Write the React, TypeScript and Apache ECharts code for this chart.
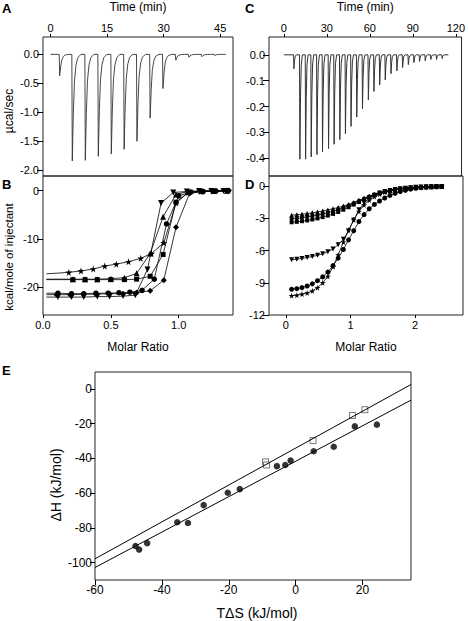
import React, { useEffect, useRef } from "react";
import * as echarts from "echarts";

// ---------- Panel A: thermogram ----------
const aInjTimes = [2.3, 5.65, 9.1, 12.55, 16.0, 19.4, 22.8, 26.3, 29.7, 33.1, 36.6, 40.0, 43.4];
const aPeaks = [-0.37, -1.84, -1.83, -1.76, -1.72, -1.64, -1.5, -1.1, -0.59, -0.1, -0.05, -0.04, -0.02];
const aSpikeDt = [0, 0.12, 0.4, 0.7, 1.1, 1.6, 2.4];
const aSpikeFrac = [0, 1, 0.55, 0.25, 0.1, 0.03, 0];
const aStart = 0;
const aEnd = 46.5;

// ---------- Panel C: thermogram ----------
const cInjTimes = [6.75, 10.9, 14.9, 18.8, 22.8, 26.7, 30.9, 34.8, 38.8, 42.7, 46.6, 50.6, 54.6, 58.7, 62.6, 66.6, 70.5, 74.5, 78.6, 82.6, 86.6, 90.5, 94.4, 98.4, 102.3, 106.3, 110.2];
const cPeaks = [-0.054, -0.404, -0.404, -0.395, -0.386, -0.376, -0.363, -0.346, -0.328, -0.305, -0.277, -0.241, -0.209, -0.174, -0.142, -0.117, -0.097, -0.073, -0.062, -0.049, -0.038, -0.03, -0.026, -0.023, -0.018, -0.018, -0.014];
const cSpikeDt = [0, 0.25, 0.7, 1.2, 2.0];
const cSpikeFrac = [0, 1, 0.4, 0.1, 0];
const cStart = 0;
const cEnd = 114.8;

// ---------- Panel B: integrated heats ----------
const bFitStartX = 0.025;
const bStarX = [0.19, 0.28, 0.37, 0.455, 0.54, 0.63, 0.72, 0.8, 0.89, 0.98, 1.07, 1.16, 1.25, 1.35];
const bStarY = [-16.9, -16.6, -16.2, -15.6, -15.2, -14.7, -14.0, -13.0, -10.8, -2.6, -0.4, -0.2, -0.1, -0.1];
const bStarFit0 = -17.2;
const bTriX = [0.22, 0.31, 0.4, 0.5, 0.6, 0.69, 0.79, 0.885, 0.98, 1.07, 1.17, 1.26, 1.36];
const bTriY = [-18.3, -18.3, -18.3, -18.2, -18.0, -17.1, -13.0, -5.4, -0.8, -0.2, -0.1, -0.1, 0];
const bTriFit0 = -18.3;
const bSqX = [0.22, 0.31, 0.4, 0.5, 0.6, 0.69, 0.79, 0.885, 0.98, 1.07, 1.17, 1.26, 1.36];
const bSqY = [-18.4, -18.4, -18.4, -18.4, -18.4, -18.3, -17.7, -13.2, -2.4, -0.4, -0.2, -0.1, 0];
const bSqFit0 = -18.4;
const bCircX = [0.11, 0.21, 0.3, 0.39, 0.48, 0.56, 0.64, 0.73, 0.82, 0.91, 1.0, 1.09, 1.18, 1.27, 1.36];
const bCircY = [-21.2, -21.3, -21.3, -21.2, -21.2, -21.1, -21.0, -20.6, -18.3, -6.9, -1.1, -0.3, -0.2, -0.1, -0.1];
const bCircFit0 = -21.2;
const bInvTriX = [0.11, 0.21, 0.3, 0.4, 0.49, 0.59, 0.68, 0.77, 0.87, 0.96, 1.06, 1.15, 1.24, 1.33];
const bInvTriY = [-22.0, -22.0, -22.0, -21.9, -21.9, -21.8, -21.6, -16.3, -2.6, -0.4, -0.2, -0.1, -0.1, -0.1];
const bInvTriFit0 = -22.0;
const bDiaX = [0.1, 0.2, 0.3, 0.39, 0.49, 0.59, 0.69, 0.79, 0.89, 0.98, 1.08, 1.18, 1.28, 1.37];
const bDiaY = [-21.5, -21.5, -21.4, -21.4, -21.3, -21.3, -21.1, -20.7, -18.5, -7.6, -0.6, -0.2, -0.1, 0];
const bDiaFit0 = -21.5;

// ---------- Panel D: integrated heats ----------
const dX = [0.09, 0.17, 0.25, 0.33, 0.41, 0.49, 0.57, 0.65, 0.73, 0.81, 0.89, 0.97, 1.05, 1.13, 1.21, 1.29, 1.37, 1.45, 1.53, 1.61, 1.69, 1.77, 1.85, 1.93, 2.01, 2.09, 2.17, 2.25, 2.33, 2.41];
const dTriY = [-2.7, -2.66, -2.61, -2.55, -2.48, -2.4, -2.31, -2.21, -2.1, -1.98, -1.85, -1.7, -1.52, -1.32, -1.12, -0.93, -0.76, -0.61, -0.49, -0.39, -0.31, -0.24, -0.19, -0.14, -0.11, -0.08, -0.06, -0.04, -0.03, -0.02];
const dMidY = [-3.05, -3.0, -2.94, -2.87, -2.79, -2.7, -2.59, -2.47, -2.33, -2.17, -1.99, -1.79, -1.57, -1.36, -1.15, -0.95, -0.78, -0.63, -0.5, -0.4, -0.32, -0.25, -0.19, -0.15, -0.11, -0.08, -0.06, -0.04, -0.03, -0.02];
const dSqY = [-3.36, -3.32, -3.26, -3.19, -3.1, -3.0, -2.88, -2.74, -2.58, -2.4, -2.19, -1.96, -1.72, -1.48, -1.24, -1.02, -0.83, -0.66, -0.52, -0.41, -0.32, -0.25, -0.2, -0.15, -0.11, -0.08, -0.06, -0.04, -0.03, -0.02];
const dInvTriY = [-6.85, -6.8, -6.73, -6.65, -6.55, -6.44, -6.3, -6.1, -5.85, -5.45, -4.95, -4.15, -3.15, -2.2, -1.55, -1.12, -0.84, -0.64, -0.5, -0.39, -0.3, -0.23, -0.18, -0.14, -0.1, -0.08, -0.06, -0.04, -0.03, -0.02];
const dStarY = [-10.2, -10.15, -10.05, -9.95, -9.75, -9.45, -9.0, -8.4, -7.5, -6.4, -5.2, -4.1, -3.15, -2.35, -1.75, -1.3, -0.98, -0.74, -0.56, -0.43, -0.33, -0.25, -0.19, -0.15, -0.11, -0.08, -0.06, -0.04, -0.03, -0.02];
const dCircY = [-9.6, -9.55, -9.45, -9.3, -9.1, -8.8, -8.45, -8.0, -7.4, -6.7, -5.9, -5.0, -4.15, -3.3, -2.65, -2.1, -1.7, -1.38, -1.1, -0.86, -0.66, -0.5, -0.38, -0.28, -0.2, -0.14, -0.1, -0.07, -0.05, -0.03];

// ---------- Panel E: enthalpy-entropy compensation ----------
const eCircTdS = [-47.9, -46.8, -44.4, -35.4, -32.2, -27.5, -20.3, -16.7, -5.6, -3.1, -1.5, 5.4, 11.4, 17.7, 24.3];
const eCircDH = [-90.4, -92.5, -88.8, -76.8, -77.2, -66.9, -59.8, -57.7, -44.5, -43.8, -41.3, -35.9, -33.3, -21.6, -20.6];
const eSqTdS = [-9.0, -8.7, 5.2, 17.0, 20.7];
const eSqDH = [-42.0, -43.8, -29.8, -15.3, -12.0];
const eUpperLineX = [-60, 34.5];
const eUpperLineY = [-97.8, 2.5];
const eLowerLineX = [-60, 34.5];
const eLowerLineY = [-102.8, -6.5];

// tick labels
const aTimeTicks = [0, 15, 30, 45];
const aYTicks = [-2, -1.5, -1, -0.5, 0];
const bXTicks = [0, 0.5, 1];
const bYTicks = [-20, -10, 0];
const cTimeTicks = [0, 30, 60, 90, 120];
const cYTicks = [-0.4, -0.3, -0.2, -0.1, 0];
const dXTicks = [0, 1, 2];
const dYTicks = [-12, -9, -6, -3, 0];
const eXTicks = [-60, -40, -20, 0, 20];
const eYTicks = [-100, -80, -60, -40, -20, 0];

const FONT = "'Liberation Sans', Arial, Helvetica, sans-serif";
const STAR = "path://M50,0 L61,35 L98,35 L68,57 L79,91 L50,70 L21,91 L32,57 L2,35 L39,35 Z";

function buildTrace(start: number, end: number, times: number[], peaks: number[], dts: number[], fracs: number[]) {
  const pts: number[][] = [[start, 0]];
  times.forEach((t, i) => {
    dts.forEach((d, j) => pts.push([t + d, peaks[i] * fracs[j]]));
  });
  pts.push([end, 0]);
  return pts;
}

function zip(xs: number[], ys: number[]) {
  return xs.map((x, i) => [x, ys[i]]);
}

function axis(gridIndex: number, position: string, min: number, max: number, ticks: number[], fmt: (v: number) => string, tickLen: number, margin: number, fontSize: number, extra: any = {}) {
  return {
    type: "value",
    gridIndex,
    position,
    min,
    max,
    splitLine: { show: false },
    axisLine: { show: false, onZero: false },
    axisTick: { show: true, inside: false, length: tickLen, customValues: ticks, lineStyle: { color: "#000", width: 1 } },
    axisLabel: { show: true, customValues: ticks, formatter: fmt, color: "#000", fontSize, fontFamily: FONT, margin },
    nameTextStyle: { color: "#000", fontSize: 12, fontFamily: FONT },
    ...extra,
  };
}

function vText(text: string, x: number, y: number, size: number) {
  return {
    type: "text",
    x,
    y,
    rotation: Math.PI / 2,
    style: { text, font: `${size}px ${FONT}`, fill: "#000", align: "center", verticalAlign: "middle" },
  };
}

function letter(text: string, left: number, top: number) {
  return { type: "text", left, top, style: { text, font: `bold 13px ${FONT}`, fill: "#000" } };
}

export default function App() {
  const ref = useRef<HTMLDivElement>(null);
  useEffect(() => {
    document.body.style.margin = "0";
    const chart = echarts.init(ref.current!, null, { renderer: "svg" });
    const gridStyle = { show: true, borderColor: "#222", borderWidth: 1, backgroundColor: "transparent" };
    const f1 = (v: number) => v.toFixed(1);
    const f0 = (v: number) => String(Math.round(v));
    const traceLine = { color: "#333", width: 0.9 };
    const fitLine = { color: "#000", width: 0.8 };

    const bSeries = (xs: number[], ys: number[], fit0: number, symbol: string, size: number, rotate = 0) => ({
      type: "line",
      xAxisIndex: 1,
      yAxisIndex: 1,
      symbol,
      symbolSize: size,
      symbolRotate: rotate,
      showSymbol: true,
      lineStyle: fitLine,
      itemStyle: { color: "#000" },
      data: [{ value: [bFitStartX, fit0], symbol: "none" }, ...zip(xs, ys)],
    });
    const dSeries = (ys: number[], symbol: string, size: number, rotate = 0) => ({
      type: "line",
      xAxisIndex: 3,
      yAxisIndex: 3,
      symbol,
      symbolSize: size,
      symbolRotate: rotate,
      showSymbol: true,
      lineStyle: fitLine,
      itemStyle: { color: "#000" },
      data: zip(dX, ys),
    });

    const option: any = {
      animation: false,
      textStyle: { fontFamily: FONT },
      grid: [
        { left: 43, top: 36, width: 190, height: 140, ...gridStyle },
        { left: 43, top: 176, width: 190, height: 139, ...gridStyle },
        { left: 269, top: 36, width: 194, height: 140, ...gridStyle },
        { left: 269, top: 176, width: 194, height: 139, ...gridStyle },
        { left: 95, top: 372, width: 316, height: 209, ...gridStyle },
      ],
      xAxis: [
        axis(0, "top", -2, 48.4, aTimeTicks, f0, 3, 4, 11, { name: "Time (min)", nameLocation: "middle", nameGap: 24 }),
        axis(1, "bottom", 0, 1.4, bXTicks, f1, 3, 4, 11, { name: "Molar Ratio", nameLocation: "middle", nameGap: 26 }),
        axis(2, "top", -10.4, 124, cTimeTicks, f0, 3, 4, 11, { name: "Time (min)", nameLocation: "middle", nameGap: 24 }),
        axis(3, "bottom", -0.26, 2.74, dXTicks, f0, 3, 4, 11, { name: "Molar Ratio", nameLocation: "middle", nameGap: 26 }),
        axis(4, "bottom", -60, 34.5, eXTicks, f0, 5, 4, 12, {
          name: "TΔS (kJ/mol)",
          nameLocation: "middle",
          nameGap: 26,
          nameTextStyle: { color: "#000", fontSize: 14, fontFamily: FONT, padding: [0, 0, 0, 8] },
        }),
      ],
      yAxis: [
        axis(0, "left", -2.1, 0.3, aYTicks, f1, 6, 4, 11),
        axis(1, "left", -25.7, 3.0, bYTicks, f0, 6, 4, 11),
        axis(2, "left", -0.469, 0.069, cYTicks, f1, 6, 4, 11),
        axis(3, "left", -12, 0.95, dYTicks, f0, 6, 4, 11),
        axis(4, "left", -110, 9.7, eYTicks, f0, 5, 3, 12),
      ],
      graphic: [
        letter("A", 2, 2),
        letter("B", 2, 178),
        letter("C", 245, 2),
        letter("D", 245, 178),
        letter("E", 2, 364),
        vText("µcal/sec", 9, 111, 12),
        vText("kcal/mole of injectant", 9, 257, 11.5),
        vText("ΔH (kJ/mol)", 56, 485, 14),
      ],
      series: [
        {
          type: "line",
          xAxisIndex: 0,
          yAxisIndex: 0,
          showSymbol: false,
          symbol: "none",
          lineStyle: traceLine,
          data: buildTrace(aStart, aEnd, aInjTimes, aPeaks, aSpikeDt, aSpikeFrac),
        },
        {
          type: "line",
          xAxisIndex: 2,
          yAxisIndex: 2,
          showSymbol: false,
          symbol: "none",
          lineStyle: { color: "#333", width: 1 },
          data: buildTrace(cStart, cEnd, cInjTimes, cPeaks, cSpikeDt, cSpikeFrac),
        },
        bSeries(bStarX, bStarY, bStarFit0, STAR, 7),
        bSeries(bTriX, bTriY, bTriFit0, "triangle", 6),
        bSeries(bSqX, bSqY, bSqFit0, "rect", 5),
        bSeries(bCircX, bCircY, bCircFit0, "circle", 5.5),
        bSeries(bInvTriX, bInvTriY, bInvTriFit0, "triangle", 6, 180),
        bSeries(bDiaX, bDiaY, bDiaFit0, "diamond", 6),
        dSeries(dTriY, "triangle", 5),
        dSeries(dMidY, "circle", 4),
        dSeries(dSqY, "rect", 4),
        dSeries(dInvTriY, "triangle", 5, 180),
        dSeries(dStarY, STAR, 6),
        dSeries(dCircY, "circle", 5),
        {
          type: "line",
          xAxisIndex: 4,
          yAxisIndex: 4,
          symbol: "none",
          lineStyle: { color: "#000", width: 1 },
          data: zip(eUpperLineX, eUpperLineY),
        },
        {
          type: "line",
          xAxisIndex: 4,
          yAxisIndex: 4,
          symbol: "none",
          lineStyle: { color: "#000", width: 1 },
          data: zip(eLowerLineX, eLowerLineY),
        },
        {
          type: "scatter",
          xAxisIndex: 4,
          yAxisIndex: 4,
          symbol: "circle",
          symbolSize: 6.5,
          itemStyle: { color: "#000" },
          data: zip(eCircTdS, eCircDH),
        },
        {
          type: "scatter",
          xAxisIndex: 4,
          yAxisIndex: 4,
          symbol: "rect",
          symbolSize: 6,
          itemStyle: { color: "#fff", borderColor: "#555", borderWidth: 1 },
          data: zip(eSqTdS, eSqDH),
        },
      ],
    };
    chart.setOption(option);
    return () => chart.dispose();
  }, []);
  return <div ref={ref} style={{ position: "absolute", left: 0, top: 0, width: 468, height: 621, background: "#fff" }} />;
}
